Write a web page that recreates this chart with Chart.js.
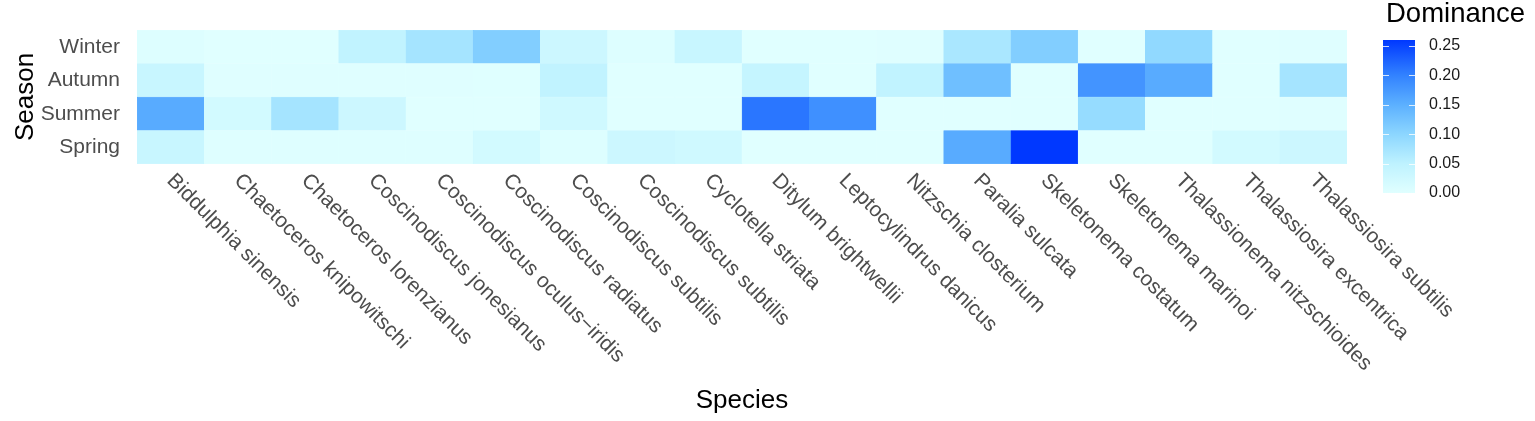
<!DOCTYPE html>
<html>
<head>
<meta charset="utf-8">
<script src="https://cdn.jsdelivr.net/npm/chart.js@4.4.1/dist/chart.umd.min.js"></script>
<style>
  html, body { margin: 0; padding: 0; background: #fff; }
  #wrap { width: 1535px; height: 421px; position: relative; }
</style>
</head>
<body>
<div id="wrap"><canvas id="heat"></canvas></div>
<script>
// species along the x axis (the reference repeats "Coscinodiscus subtilis")
const species = [
    'Biddulphia sinensis', 'Chaetoceros knipowitschi', 'Chaetoceros lorenzianus',
    'Coscinodiscus jonesianus', 'Coscinodiscus oculus\u2212iridis', 'Coscinodiscus radiatus',
    'Coscinodiscus subtilis', 'Coscinodiscus subtilis', 'Cyclotella striata',
    'Ditylum brightwellii', 'Leptocylindrus danicus', 'Nitzschia closterium',
    'Paralia sulcata', 'Skeletonema costatum', 'Skeletonema marinoi',
    'Thalassionema nitzschioides', 'Thalassiosira excentrica', 'Thalassiosira subtilis'
];

// seasons, top to bottom
const seasons = ['Winter', 'Autumn', 'Summer', 'Spring'];

// dominance per season
const winter = [0.004, 0.000, 0.000, 0.045, 0.075, 0.110, 0.030, 0.004, 0.035, 0.000, 0.000, 0.002, 0.070, 0.110, 0.000, 0.095, 0.000, 0.002];
const autumn = [0.035, 0.002, 0.002, 0.002, 0.002, 0.001, 0.045, 0.000, 0.000, 0.040, 0.000, 0.045, 0.130, 0.000, 0.180, 0.155, 0.000, 0.075];
const summer = [0.155, 0.020, 0.075, 0.030, 0.000, 0.000, 0.025, 0.000, 0.000, 0.210, 0.185, 0.000, 0.000, 0.000, 0.090, 0.000, 0.000, 0.002];
const spring = [0.035, 0.003, 0.003, 0.003, 0.003, 0.020, 0.005, 0.030, 0.025, 0.000, 0.000, 0.000, 0.155, 0.260, 0.000, 0.000, 0.020, 0.030];

// colour bar breaks
const legendTicks = [0.00, 0.05, 0.10, 0.15, 0.20, 0.25];
const legendMax = 0.26;

// gradient stops sampled from the colour bar
const colorStops = [
    [0.00, [224, 255, 255]],
    [0.05, [190, 242, 255]],
    [0.10, [140, 214, 255]],
    [0.15, [92, 176, 255]],
    [0.20, [50, 130, 255]],
    [0.26, [0, 56, 255]]
];

function fillColor(v) {
    if (v <= colorStops[0][0]) return 'rgb(' + colorStops[0][1].join(',') + ')';
    for (let i = 1; i < colorStops.length; i++) {
        const [v1, c1] = colorStops[i];
        const [v0, c0] = colorStops[i - 1];
        if (v <= v1) {
            const t = (v - v0) / (v1 - v0);
            const c = c0.map((x, k) => Math.round(x + (c1[k] - x) * t));
            return 'rgb(' + c.join(',') + ')';
        }
    }
    return 'rgb(' + colorStops[colorStops.length - 1][1].join(',') + ')';
}

// stacked from the bottom up
const rows = [
    { label: 'Spring', values: spring },
    { label: 'Summer', values: summer },
    { label: 'Autumn', values: autumn },
    { label: 'Winter', values: winter }
];

const FONT = '"Liberation Sans", Arial, sans-serif';

const extraText = {
    id: 'extraText',
    afterDraw(chart) {
        const ctx = chart.ctx;
        const xs = chart.scales.x;
        const area = chart.chartArea;

        // rotated species labels
        ctx.save();
        ctx.fillStyle = '#4d4d4d';
        ctx.font = '21px ' + FONT;
        ctx.textAlign = 'left';
        ctx.textBaseline = 'top';
        species.forEach((name, i) => {
            const x = xs.getPixelForValue(i);
            ctx.save();
            ctx.translate(x + 7, area.bottom + 6);
            ctx.rotate(Math.PI / 4);
            ctx.fillText(name, 0, 0);
            ctx.restore();
        });
        ctx.restore();

        // axis titles
        ctx.save();
        ctx.fillStyle = '#000';
        ctx.font = '26px ' + FONT;
        ctx.textAlign = 'center';
        ctx.textBaseline = 'alphabetic';
        ctx.fillText('Species', (area.left + area.right) / 2, 408);
        ctx.translate(33, (area.top + area.bottom) / 2);
        ctx.rotate(-Math.PI / 2);
        ctx.fillText('Season', 0, 0);
        ctx.restore();

        // colour bar legend
        const bx = 1383, bw = 32, btop = 40, bbot = 193;
        const yOf = v => bbot - (v / legendMax) * (bbot - btop);
        const grad = ctx.createLinearGradient(0, bbot, 0, btop);
        colorStops.forEach(([v, c]) => grad.addColorStop(v / legendMax, 'rgb(' + c.join(',') + ')'));
        ctx.save();
        ctx.fillStyle = grad;
        ctx.fillRect(bx, btop, bw, bbot - btop);
        ctx.strokeStyle = 'rgba(255,255,255,0.8)';
        ctx.lineWidth = 1;
        legendTicks.forEach(v => {
            const y = Math.round(yOf(v)) + 0.5;
            ctx.beginPath();
            ctx.moveTo(bx, y); ctx.lineTo(bx + 6, y);
            ctx.moveTo(bx + bw - 6, y); ctx.lineTo(bx + bw, y);
            ctx.stroke();
        });
        ctx.fillStyle = '#1a1a1a';
        ctx.font = '16px ' + FONT;
        ctx.textAlign = 'left';
        ctx.textBaseline = 'middle';
        legendTicks.forEach(v => ctx.fillText(v.toFixed(2), 1429, yOf(v)));
        ctx.fillStyle = '#000';
        ctx.font = '27.5px ' + FONT;
        ctx.textBaseline = 'alphabetic';
        ctx.fillText('Dominance', 1386, 22);
        ctx.restore();
    }
};

new Chart(document.getElementById('heat'), {
    type: 'bar',
    data: {
        labels: species,
        datasets: rows.map(r => ({
            label: r.label,
            data: r.values.map(() => 1),
            backgroundColor: r.values.map(fillColor),
            borderColor: r.values.map(fillColor),
            borderWidth: 0.5,
            borderSkipped: false,
            barPercentage: 1,
            categoryPercentage: 1
        }))
    },
    options: {
        responsive: true,
        maintainAspectRatio: false,
        animation: false,
        devicePixelRatio: 1,
        layout: { padding: { left: 0, right: 188, top: 30, bottom: 257 } },
        plugins: { legend: { display: false }, tooltip: { enabled: false } },
        scales: {
            x: { stacked: true, display: false },
            y: { stacked: true, display: false, min: 0, max: 4 },
            season: {
                type: 'category',
                position: 'left',
                labels: seasons,
                offset: true,
                grid: { display: false, drawTicks: false },
                border: { display: false },
                ticks: { color: '#4d4d4d', font: { size: 21, family: FONT }, padding: 17 },
                afterFit: (scale) => { scale.width = 137; }
            }
        }
    },
    plugins: [extraText]
});
</script>
</body>
</html>
